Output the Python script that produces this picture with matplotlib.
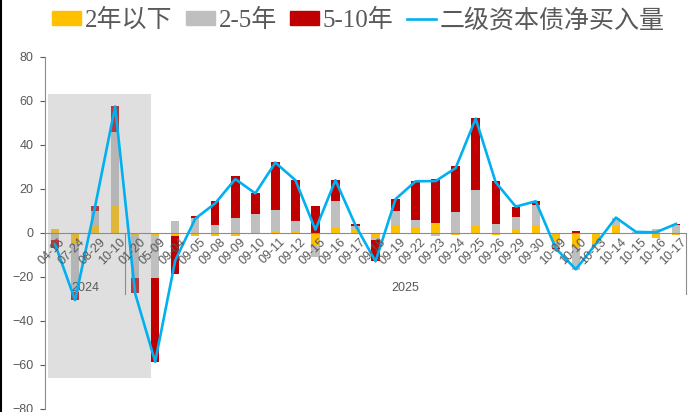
import matplotlib.pyplot as plt
from matplotlib.patches import Patch, Rectangle
from matplotlib.lines import Line2D
import numpy as np

plt.rcParams['font.family'] = ['Liberation Sans', 'Noto Sans CJK SC']

dates = ['04-16', '07-24', '08-29', '10-10', '01-20', '05-09', '09-04', '09-05',
         '09-08', '09-09', '09-10', '09-11', '09-12', '09-15', '09-16', '09-17',
         '09-18', '09-19', '09-22', '09-23', '09-24', '09-25', '09-26', '09-29',
         '09-30', '10-09', '10-10', '10-13', '10-14', '10-15', '10-16', '10-17']
years = ['2024', '2025']
year_counts = [4, 28]

short = [1.7, -4.7, 3.4, 12.9, -1.2, -1.4, -1.5, -1.5, -1.5, -1.5, 0, 0.6, 0.7, -5.3,
         2.4, 1.7, -1.8, 3.6, 2.6, 4.5, -0.8, 3.0, -0.8, 1.5, 3.5, -3.8, -7.0, -4.8,
         3.2, 0, -2.1, -0.8]
mid = [-3.3, -22, 6.4, 32.8, -19.1, -19.2, 5.6, 6.6, 3.8, 6.9, 8.8, 9.7, 4.7, -5.8,
       12.0, 1.3, -1.2, 6.5, 3.5, -1.2, 9.7, 16.4, 4.1, 5.6, 9.4, -2.8, -9.6, -0.4,
       3.6, 0.4, 2.0, 3.6]
long = [-3.6, -3.6, 2.4, 11.9, -7.1, -38.2, -17, 0.9, 10.6, 18.9, 9.4, 21.8, 18.8,
        12.4, 9.8, 1.2, -9.9, 5.3, 17.5, 20.2, 20.6, 32.9, 19.7, 4.9, 1.5, -0.6, 0.7,
        0, 0, 0, 0, 0.5]
net = [-5, -30.5, 12, 57.5, -27.5, -58.5, -12.5, 6.5, 13.5, 24.5, 18, 32, 24, 1.5,
       24, 3.5, -12.9, 15.4, 23.5, 23.6, 29.5, 52, 23, 12, 14.4, -7, -16.5, -5, 7,
       0.5, 0.3, 4.1]

labels = ['2年以下', '2-5年', '5-10年', '二级资本债净买入量']
colors = ['#FFC000', '#BFBFBF', '#C00000']
line_color = '#00B0F0'
text_color = '#595959'

fig = plt.figure(figsize=(6.99, 4.12), dpi=100)
ax = fig.add_axes([0.0644, 0.0073, 0.917, 0.8544])

x = np.arange(len(dates))
pos_bottom = np.zeros(len(dates))
neg_bottom = np.zeros(len(dates))
for vals, c in zip([short, mid, long], colors):
    v = np.array(vals, dtype=float)
    bottom = np.where(v >= 0, pos_bottom, neg_bottom)
    ax.bar(x, v, width=0.42, bottom=bottom, color=c, zorder=2)
    pos_bottom = pos_bottom + np.where(v > 0, v, 0)
    neg_bottom = neg_bottom + np.where(v < 0, v, 0)

# shaded block over the older dates
ax.add_patch(Rectangle((-0.35, -66), 5.15, 129, facecolor='#A8A4A6', alpha=0.35,
                       edgecolor='none', zorder=3))

ax.plot(x, net, color=line_color, lw=1.9, zorder=4)

ax.set_xlim(-0.5, len(dates) - 0.5)
ax.set_ylim(-80, 80)
ax.set_yticks(np.arange(-80, 81, 20))
ax.tick_params(axis='y', colors=text_color, labelsize=9, length=3.5, width=0.8, pad=5)
ax.set_xticks([])
for s in ['top', 'right']:
    ax.spines[s].set_visible(False)
ax.spines['left'].set_color('#8C8C8C')
ax.spines['bottom'].set_position(('data', 0))
ax.spines['bottom'].set_color('#8C8C8C')
ax.spines['bottom'].set_zorder(3.5)

for i, d in enumerate(dates):
    ax.annotate(d, (i, 0), xytext=(3, -2), textcoords='offset points',
                rotation=45, ha='right', va='top', rotation_mode='anchor',
                fontsize=9, color=text_color, zorder=5)

# year level of the category axis
start = 0
for y, n in zip(years, year_counts):
    ax.text(start + (n - 1) / 2, -25, y, ha='center', va='center', fontsize=9,
            color=text_color)
    start += n
    ax.plot([start - 0.5, start - 0.5], [0, -27.7], color='#8C8C8C', lw=0.8,
            clip_on=False, zorder=3)

handles = [Patch(color=c) for c in colors] + [Line2D([], [], color=line_color, lw=1.9)]
fig.legend(handles, labels, loc='center', bbox_to_anchor=(0.513, 0.951), ncol=4,
           frameon=False, handlelength=1.15, handleheight=0.5, handletextpad=0.15,
           columnspacing=0.55, labelcolor=text_color,
           prop={'family': ['Liberation Serif', 'Noto Sans CJK SC'], 'size': 18})

fig.add_artist(Line2D([0.002, 0.002], [0, 1], color='black', lw=1.5,
                      transform=fig.transFigure))

fig.savefig('out.png', dpi=100)
